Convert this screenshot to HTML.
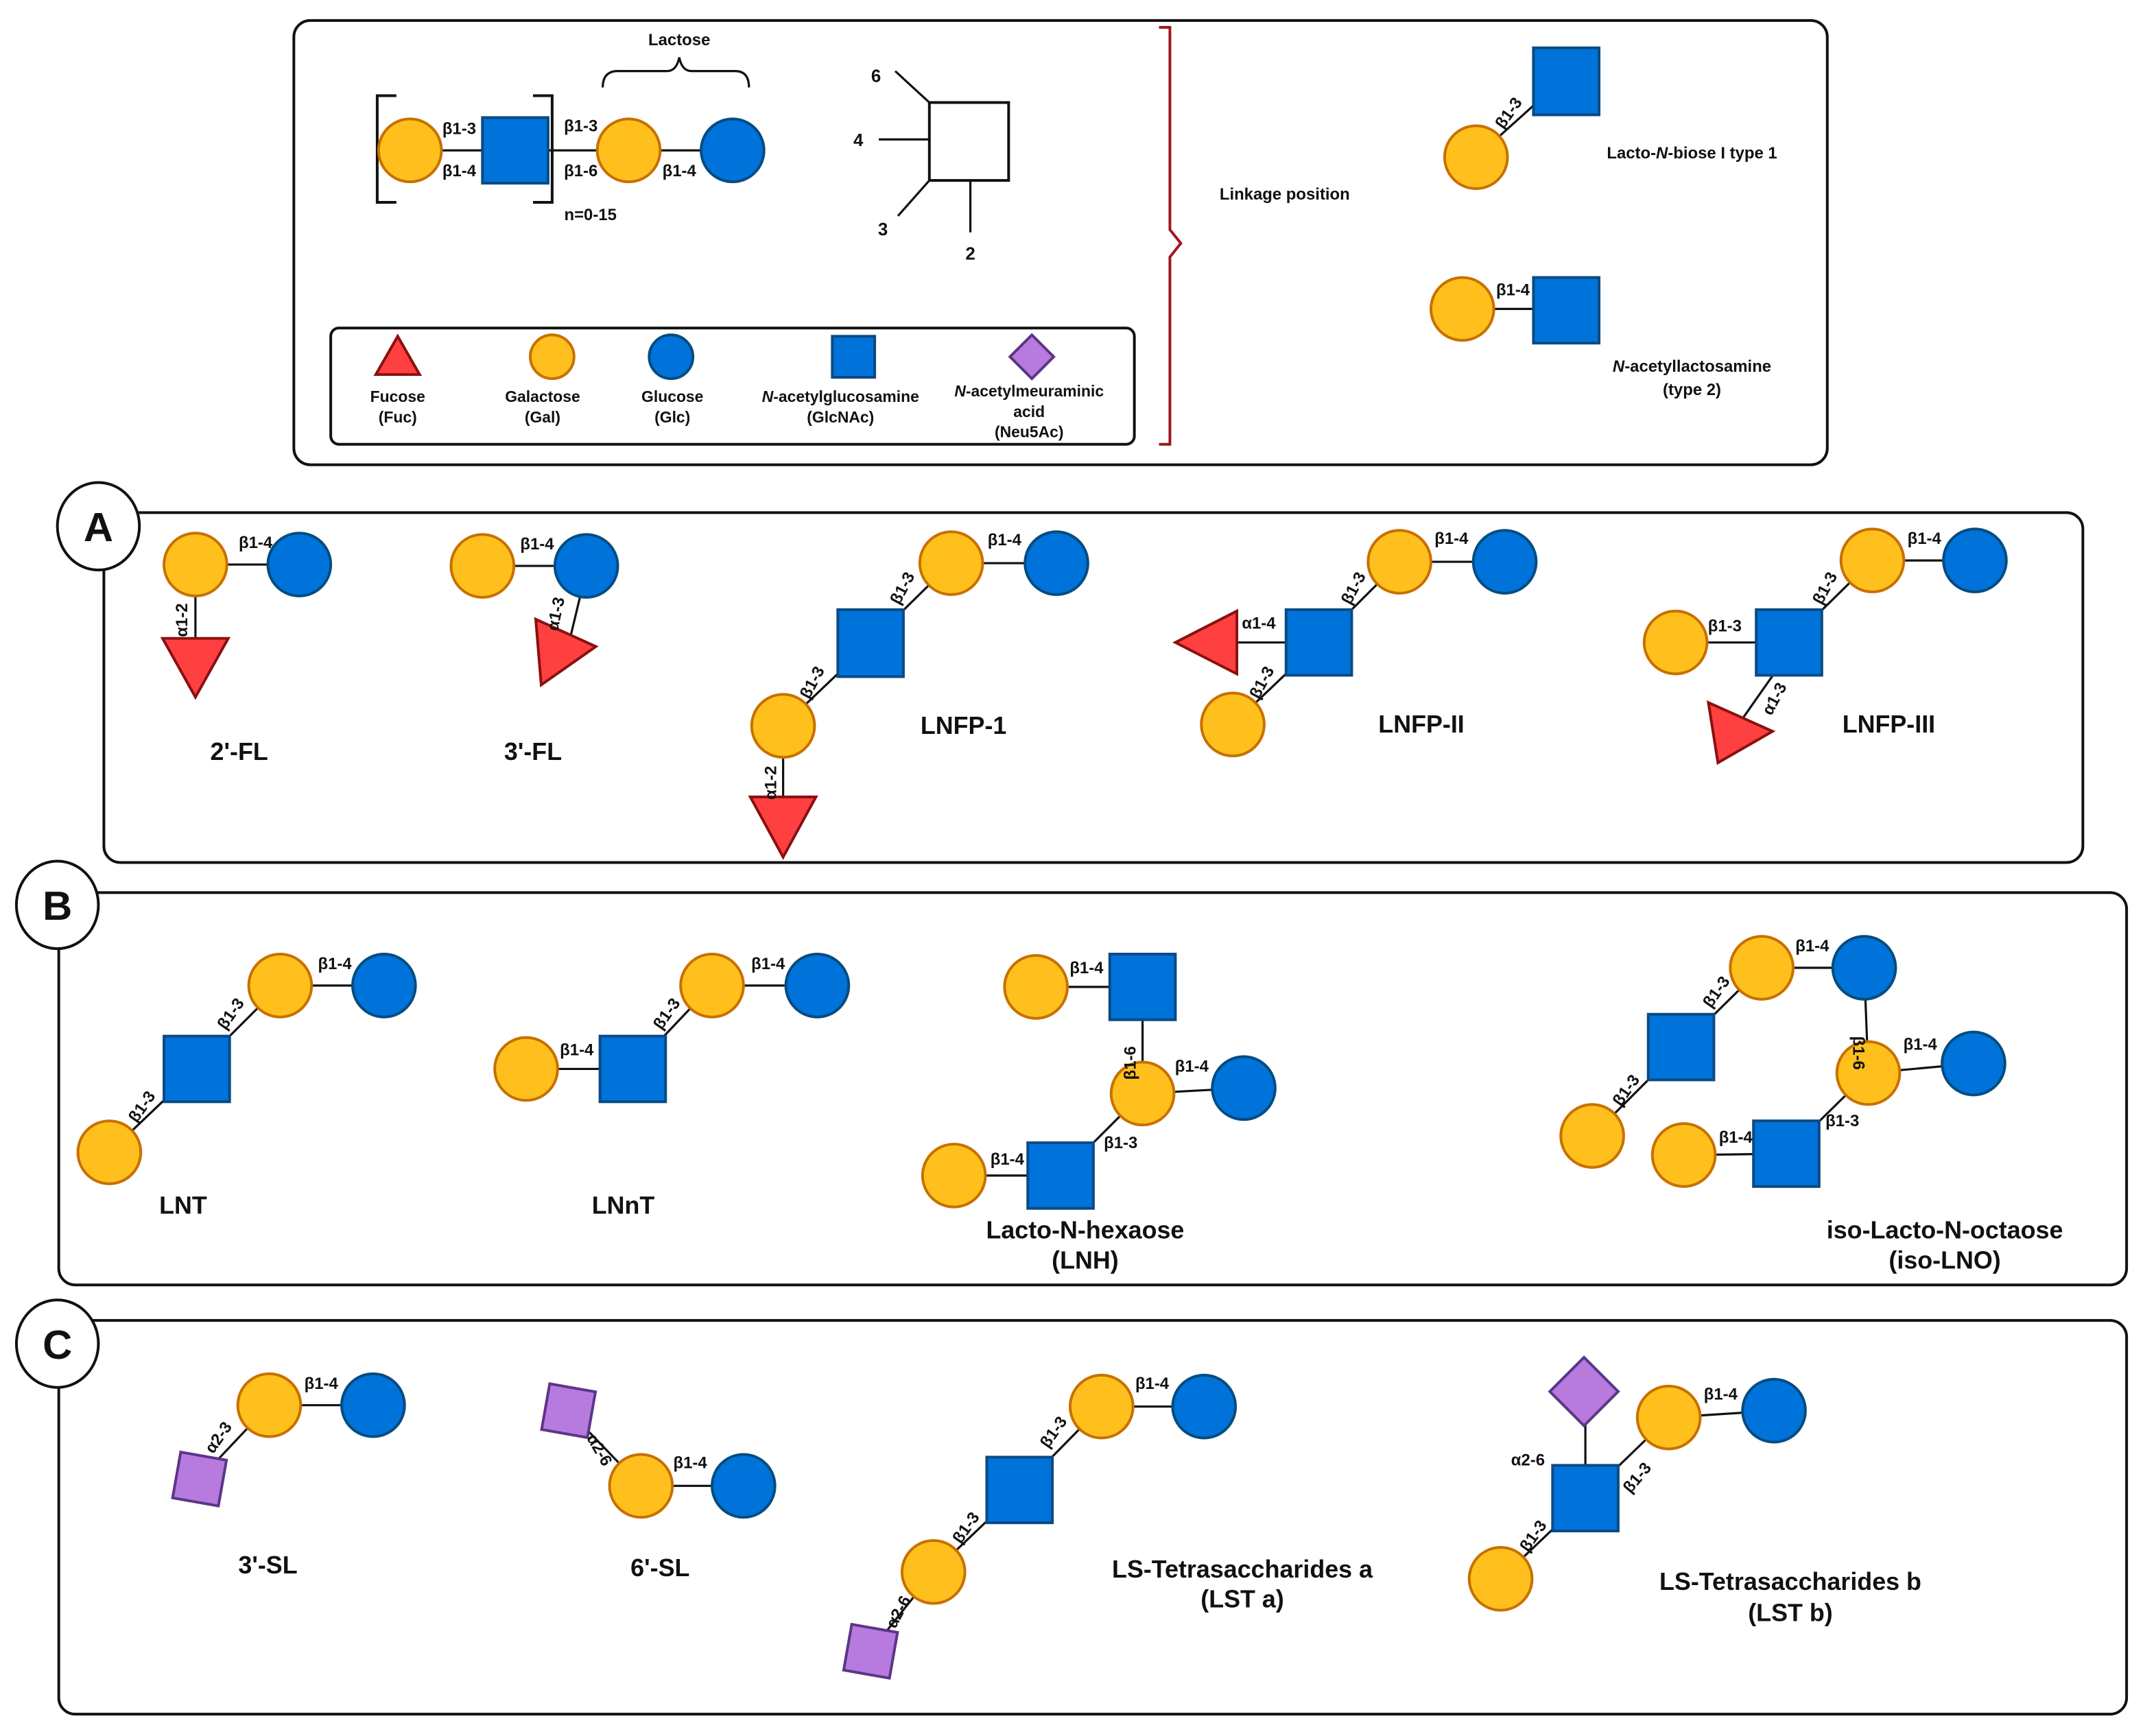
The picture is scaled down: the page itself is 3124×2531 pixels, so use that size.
<!DOCTYPE html>
<html><head><meta charset="utf-8"><style>
html,body{margin:0;padding:0;background:#fff}
svg{display:block}
text{font-family:"Liberation Sans",sans-serif;font-weight:bold;fill:#111}
.s{font-size:12px}.t{font-size:18px}.m{font-size:13px}.l{font-size:11.5px}
.ga{fill:#FFC01E;stroke:#C87000;stroke-width:2}
.gl{fill:#0073DA;stroke:#064C80;stroke-width:2}
.gn{fill:#0073DA;stroke:#0B4A85;stroke-width:2}
.fu{fill:#FF4040;stroke:#8B1010;stroke-width:2}
.ne{fill:#B77BE0;stroke:#5E3586;stroke-width:2}
.ln{stroke:#111;stroke-width:1.6;fill:none}
.bx{fill:none;stroke:#111;stroke-width:2}
</style></head><body>
<svg width="3124" height="2531" viewBox="0 0 1568 1270" preserveAspectRatio="none" xmlns="http://www.w3.org/2000/svg">
<!-- TOP BOX -->
<rect x="215" y="15" width="1122" height="325" rx="12" class="bx"/>
<path class="ln" d="M290 70 H276 V148 H290 M390 70 H404 V148 H390" style="stroke-width:2"/>
<line class="ln" x1="300" y1="110" x2="536" y2="110"/>
<circle cx="300" cy="110" r="23" class="ga"/>
<rect x="353" y="86" width="48" height="48" class="gn"/>
<circle cx="460" cy="110" r="23" class="ga"/>
<circle cx="536" cy="110" r="23" class="gl"/>
<text x="336" y="98" class="s" text-anchor="middle">β1-3</text>
<text x="336" y="129" class="s" text-anchor="middle">β1-4</text>
<text x="425" y="96" class="s" text-anchor="middle">β1-3</text>
<text x="425" y="129" class="s" text-anchor="middle">β1-6</text>
<text x="497" y="129" class="s" text-anchor="middle">β1-4</text>
<text x="432" y="161" class="s" text-anchor="middle">n=0-15</text>
<text x="497" y="33" class="s" text-anchor="middle">Lactose</text>
<path class="ln" d="M441 64 Q441 52 452 52 H488 Q495 52 497 42 Q499 52 506 52 H538 Q548 52 548 64"/>
<rect x="680" y="75" width="58" height="57" class="bx" style="fill:#fff"/>
<line class="ln" x1="655" y1="52" x2="680" y2="75"/>
<line class="ln" x1="643" y1="102" x2="680" y2="102"/>
<line class="ln" x1="657" y1="158" x2="680" y2="132"/>
<line class="ln" x1="710" y1="132" x2="710" y2="170"/>
<text x="641" y="60" class="m" text-anchor="middle">6</text>
<text x="628" y="107" class="m" text-anchor="middle">4</text>
<text x="646" y="172" class="m" text-anchor="middle">3</text>
<text x="710" y="190" class="m" text-anchor="middle">2</text>
<path d="M848 20 H856 V168 L864 178 L856 188 V325 H848" fill="none" stroke="#A0161E" stroke-width="2"/>
<text x="940" y="146" class="s" text-anchor="middle">Linkage position</text>
<line class="ln" x1="1080" y1="115" x2="1130" y2="70"/>
<circle cx="1080" cy="115" r="23" class="ga"/>
<rect x="1122" y="35" width="48" height="49" class="gn"/>
<text x="0" y="0" class="s" transform="translate(1100,95) rotate(-55)">β1-3</text>
<text x="1238" y="116" class="s" text-anchor="middle">Lacto-<tspan font-style="italic">N</tspan>-biose I type 1</text>
<line class="ln" x1="1070" y1="226" x2="1140" y2="226"/>
<circle cx="1070" cy="226" r="23" class="ga"/>
<rect x="1122" y="203" width="48" height="48" class="gn"/>
<text x="1107" y="216" class="s" text-anchor="middle">β1-4</text>
<text x="1238" y="272" class="s" text-anchor="middle"><tspan font-style="italic">N</tspan>-acetyllactosamine</text>
<text x="1238" y="289" class="s" text-anchor="middle">(type 2)</text>
<!-- legend -->
<rect x="242" y="240" width="588" height="85" rx="6" class="bx"/>
<polygon points="291,246 307,274 275,274" class="fu"/>
<ellipse cx="404" cy="261" rx="16" ry="16" class="ga"/>
<ellipse cx="491" cy="261" rx="16" ry="16" class="gl"/>
<rect x="609" y="246" width="31" height="30" class="gn"/>
<polygon points="755,245 771,261 755,277 739,261" class="ne"/>
<text x="291" y="294" class="l" text-anchor="middle">Fucose</text><text x="291" y="309" class="l" text-anchor="middle">(Fuc)</text>
<text x="397" y="294" class="l" text-anchor="middle">Galactose</text><text x="397" y="309" class="l" text-anchor="middle">(Gal)</text>
<text x="492" y="294" class="l" text-anchor="middle">Glucose</text><text x="492" y="309" class="l" text-anchor="middle">(Glc)</text>
<text x="615" y="294" class="l" text-anchor="middle"><tspan font-style="italic">N</tspan>-acetylglucosamine</text><text x="615" y="309" class="l" text-anchor="middle">(GlcNAc)</text>
<text x="753" y="290" class="l" text-anchor="middle"><tspan font-style="italic">N</tspan>-acetylmeuraminic</text><text x="753" y="305" class="l" text-anchor="middle">acid</text><text x="753" y="320" class="l" text-anchor="middle">(Neu5Ac)</text>

<!-- PANEL A -->
<rect x="76" y="375" width="1448" height="256" rx="12" class="bx"/>
<ellipse cx="72" cy="385" rx="30" ry="32" fill="#fff" stroke="#111" stroke-width="2"/>
<text x="72" y="396" text-anchor="middle" style="font-size:30px">A</text>
<!-- 2'-FL -->
<line class="ln" x1="143" y1="413" x2="219" y2="413"/><line class="ln" x1="143" y1="413" x2="143" y2="468"/>
<circle cx="143" cy="413" r="23" class="ga"/><circle cx="219" cy="413" r="23" class="gl"/>
<polygon points="119,467 167,467 143,510" class="fu"/>
<text x="187" y="401" class="s" text-anchor="middle">β1-4</text>
<text class="s" transform="translate(137,466) rotate(-90)">α1-2</text>
<text x="175" y="556" class="t" text-anchor="middle">2'-FL</text>
<!-- 3'-FL -->
<line class="ln" x1="353" y1="414" x2="429" y2="414"/><line class="ln" x1="426" y1="430" x2="414" y2="480"/>
<circle cx="353" cy="414" r="23" class="ga"/><circle cx="429" cy="414" r="23" class="gl"/>
<polygon points="392,453 436,473 396,501" class="fu"/>
<text x="393" y="402" class="s" text-anchor="middle">β1-4</text>
<text class="s" transform="translate(408,462) rotate(-78)">α1-3</text>
<text x="390" y="556" class="t" text-anchor="middle">3'-FL</text>
<!-- LNFP-1 -->
<line class="ln" x1="696" y1="412" x2="773" y2="412"/><line class="ln" x1="696" y1="412" x2="637" y2="470"/><line class="ln" x1="637" y1="470" x2="573" y2="531"/><line class="ln" x1="573" y1="531" x2="573" y2="584"/>
<circle cx="696" cy="412" r="23" class="ga"/><circle cx="773" cy="412" r="23" class="gl"/>
<rect x="613" y="446" width="48" height="49" class="gn"/>
<circle cx="573" cy="531" r="23" class="ga"/>
<polygon points="549,583 597,583 573,627" class="fu"/>
<text x="735" y="399" class="s" text-anchor="middle">β1-4</text>
<text class="s" transform="translate(658,443) rotate(-62)">β1-3</text>
<text class="s" transform="translate(592,512) rotate(-62)">β1-3</text>
<text class="s" transform="translate(568,585) rotate(-90)">α1-2</text>
<text x="705" y="537" class="t" text-anchor="middle">LNFP-1</text>
<!-- LNFP-II -->
<line class="ln" x1="1024" y1="411" x2="1101" y2="411"/><line class="ln" x1="1024" y1="411" x2="965" y2="470"/><line class="ln" x1="965" y1="470" x2="902" y2="530"/><line class="ln" x1="965" y1="470" x2="900" y2="470"/>
<circle cx="1024" cy="411" r="23" class="ga"/><circle cx="1101" cy="411" r="23" class="gl"/>
<rect x="941" y="446" width="48" height="48" class="gn"/>
<circle cx="902" cy="530" r="23" class="ga"/>
<polygon points="860,470 905,447 905,493" class="fu"/>
<text x="1062" y="398" class="s" text-anchor="middle">β1-4</text>
<text x="921" y="460" class="s" text-anchor="middle">α1-4</text>
<text class="s" transform="translate(988,443) rotate(-62)">β1-3</text>
<text class="s" transform="translate(921,512) rotate(-62)">β1-3</text>
<text x="1040" y="536" class="t" text-anchor="middle">LNFP-II</text>
<!-- LNFP-III -->
<line class="ln" x1="1370" y1="410" x2="1445" y2="410"/><line class="ln" x1="1370" y1="410" x2="1309" y2="470"/><line class="ln" x1="1309" y1="470" x2="1226" y2="470"/><line class="ln" x1="1300" y1="490" x2="1272" y2="530"/>
<circle cx="1370" cy="410" r="23" class="ga"/><circle cx="1445" cy="410" r="23" class="gl"/>
<rect x="1285" y="446" width="48" height="48" class="gn"/>
<circle cx="1226" cy="470" r="23" class="ga"/>
<polygon points="1250,514 1297,535 1257,558" class="fu"/>
<text x="1408" y="398" class="s" text-anchor="middle">β1-4</text>
<text x="1262" y="462" class="s" text-anchor="middle">β1-3</text>
<text class="s" transform="translate(1333,443) rotate(-62)">β1-3</text>
<text class="s" transform="translate(1296,524) rotate(-62)">α1-3</text>
<text x="1382" y="536" class="t" text-anchor="middle">LNFP-III</text>

<!-- PANEL B -->
<rect x="43" y="653" width="1513" height="287" rx="12" class="bx"/>
<ellipse cx="42" cy="662" rx="30" ry="32" fill="#fff" stroke="#111" stroke-width="2"/>
<text x="42" y="673" text-anchor="middle" style="font-size:30px">B</text>
<!-- LNT -->
<line class="ln" x1="205" y1="721" x2="281" y2="721"/><line class="ln" x1="205" y1="721" x2="144" y2="782"/><line class="ln" x1="144" y1="782" x2="80" y2="843"/>
<circle cx="205" cy="721" r="23" class="ga"/><circle cx="281" cy="721" r="23" class="gl"/>
<rect x="120" y="758" width="48" height="48" class="gn"/>
<circle cx="80" cy="843" r="23" class="ga"/>
<text x="245" y="709" class="s" text-anchor="middle">β1-4</text>
<text class="s" transform="translate(165,754) rotate(-55)">β1-3</text>
<text class="s" transform="translate(100,822) rotate(-55)">β1-3</text>
<text x="134" y="888" class="t" text-anchor="middle">LNT</text>
<!-- LNnT -->
<line class="ln" x1="521" y1="721" x2="598" y2="721"/><line class="ln" x1="521" y1="721" x2="463" y2="782"/><line class="ln" x1="463" y1="782" x2="385" y2="782"/>
<circle cx="521" cy="721" r="23" class="ga"/><circle cx="598" cy="721" r="23" class="gl"/>
<rect x="439" y="758" width="48" height="48" class="gn"/>
<circle cx="385" cy="782" r="23" class="ga"/>
<text x="562" y="709" class="s" text-anchor="middle">β1-4</text>
<text x="422" y="772" class="s" text-anchor="middle">β1-4</text>
<text class="s" transform="translate(484,754) rotate(-55)">β1-3</text>
<text x="456" y="888" class="t" text-anchor="middle">LNnT</text>
<!-- LNH -->
<line class="ln" x1="758" y1="722" x2="836" y2="722"/><line class="ln" x1="836" y1="722" x2="836" y2="800"/><line class="ln" x1="836" y1="800" x2="910" y2="796"/><line class="ln" x1="836" y1="800" x2="776" y2="860"/><line class="ln" x1="776" y1="860" x2="698" y2="860"/>
<circle cx="758" cy="722" r="23" class="ga"/>
<rect x="812" y="698" width="48" height="48" class="gn"/>
<circle cx="836" cy="800" r="23" class="ga"/><circle cx="910" cy="796" r="23" class="gl"/>
<rect x="752" y="836" width="48" height="48" class="gn"/>
<circle cx="698" cy="860" r="23" class="ga"/>
<text x="795" y="712" class="s" text-anchor="middle">β1-4</text>
<text class="s" transform="translate(831,790) rotate(-90)">β1-6</text>
<text x="872" y="784" class="s" text-anchor="middle">β1-4</text>
<text x="820" y="840" class="s" text-anchor="middle">β1-3</text>
<text x="737" y="852" class="s" text-anchor="middle">β1-4</text>
<text x="794" y="906" class="t" text-anchor="middle">Lacto-N-hexaose</text>
<text x="794" y="928" class="t" text-anchor="middle">(LNH)</text>
<!-- iso-LNO -->
<line class="ln" x1="1289" y1="708" x2="1364" y2="708"/><line class="ln" x1="1289" y1="708" x2="1230" y2="766"/><line class="ln" x1="1230" y1="766" x2="1165" y2="831"/><line class="ln" x1="1364" y1="708" x2="1367" y2="785"/><line class="ln" x1="1367" y1="785" x2="1444" y2="778"/><line class="ln" x1="1367" y1="785" x2="1307" y2="844"/><line class="ln" x1="1307" y1="844" x2="1232" y2="845"/>
<circle cx="1289" cy="708" r="23" class="ga"/><circle cx="1364" cy="708" r="23" class="gl"/>
<rect x="1206" y="742" width="48" height="48" class="gn"/>
<circle cx="1165" cy="831" r="23" class="ga"/>
<circle cx="1367" cy="785" r="23" class="ga"/><circle cx="1444" cy="778" r="23" class="gl"/>
<rect x="1283" y="820" width="48" height="48" class="gn"/>
<circle cx="1232" cy="845" r="23" class="ga"/>
<text x="1326" y="696" class="s" text-anchor="middle">β1-4</text>
<text class="s" transform="translate(1252,738) rotate(-55)">β1-3</text>
<text class="s" transform="translate(1186,810) rotate(-55)">β1-3</text>
<text class="s" transform="translate(1356,758) rotate(90)">β1-6</text>
<text x="1405" y="768" class="s" text-anchor="middle">β1-4</text>
<text x="1348" y="824" class="s" text-anchor="middle">β1-3</text>
<text x="1270" y="836" class="s" text-anchor="middle">β1-4</text>
<text x="1423" y="906" class="t" text-anchor="middle">iso-Lacto-N-octaose</text>
<text x="1423" y="928" class="t" text-anchor="middle">(iso-LNO)</text>

<!-- PANEL C -->
<rect x="43" y="966" width="1513" height="288" rx="12" class="bx"/>
<ellipse cx="42" cy="983" rx="30" ry="32" fill="#fff" stroke="#111" stroke-width="2"/>
<text x="42" y="994" text-anchor="middle" style="font-size:30px">C</text>
<!-- 3'-SL -->
<line class="ln" x1="197" y1="1028" x2="273" y2="1028"/><line class="ln" x1="197" y1="1028" x2="146" y2="1082"/>
<circle cx="197" cy="1028" r="23" class="ga"/><circle cx="273" cy="1028" r="23" class="gl"/>
<rect x="129" y="1065" width="34" height="34" class="ne" transform="rotate(10 146 1082)"/>
<text x="235" y="1016" class="s" text-anchor="middle">β1-4</text>
<text class="s" transform="translate(156,1064) rotate(-55)">α2-3</text>
<text x="196" y="1151" class="t" text-anchor="middle">3'-SL</text>
<!-- 6'-SL -->
<line class="ln" x1="416" y1="1032" x2="469" y2="1087"/><line class="ln" x1="469" y1="1087" x2="544" y2="1087"/>
<rect x="399" y="1015" width="34" height="34" class="ne" transform="rotate(10 416 1032)"/>
<circle cx="469" cy="1087" r="23" class="ga"/><circle cx="544" cy="1087" r="23" class="gl"/>
<text x="505" y="1074" class="s" text-anchor="middle">β1-4</text>
<text class="s" transform="translate(429,1052) rotate(60)">α2-6</text>
<text x="483" y="1153" class="t" text-anchor="middle">6'-SL</text>
<!-- LST a -->
<line class="ln" x1="806" y1="1029" x2="881" y2="1029"/><line class="ln" x1="806" y1="1029" x2="746" y2="1090"/><line class="ln" x1="746" y1="1090" x2="683" y2="1150"/><line class="ln" x1="683" y1="1150" x2="637" y2="1208"/>
<circle cx="806" cy="1029" r="23" class="ga"/><circle cx="881" cy="1029" r="23" class="gl"/>
<rect x="722" y="1066" width="48" height="48" class="gn"/>
<circle cx="683" cy="1150" r="23" class="ga"/>
<rect x="620" y="1191" width="34" height="34" class="ne" transform="rotate(10 637 1208)"/>
<text x="843" y="1016" class="s" text-anchor="middle">β1-4</text>
<text class="s" transform="translate(767,1060) rotate(-55)">β1-3</text>
<text class="s" transform="translate(703,1130) rotate(-55)">β1-3</text>
<text class="s" transform="translate(655,1192) rotate(-62)">α2-6</text>
<text x="909" y="1154" class="t" text-anchor="middle">LS-Tetrasaccharides a</text>
<text x="909" y="1176" class="t" text-anchor="middle">(LST a)</text>
<!-- LST b -->
<line class="ln" x1="1160" y1="1018" x2="1160" y2="1096"/><line class="ln" x1="1160" y1="1096" x2="1221" y2="1037"/><line class="ln" x1="1221" y1="1037" x2="1298" y2="1032"/><line class="ln" x1="1160" y1="1096" x2="1098" y2="1155"/>
<polygon points="1159,993 1184,1018 1159,1043 1134,1018" class="ne"/>
<rect x="1136" y="1072" width="48" height="48" class="gn"/>
<circle cx="1221" cy="1037" r="23" class="ga"/><circle cx="1298" cy="1032" r="23" class="gl"/>
<circle cx="1098" cy="1155" r="23" class="ga"/>
<text x="1259" y="1024" class="s" text-anchor="middle">β1-4</text>
<text x="1118" y="1072" class="s" text-anchor="middle">α2-6</text>
<text class="s" transform="translate(1193,1093) rotate(-50)">β1-3</text>
<text class="s" transform="translate(1118,1136) rotate(-55)">β1-3</text>
<text x="1310" y="1163" class="t" text-anchor="middle">LS-Tetrasaccharides b</text>
<text x="1310" y="1186" class="t" text-anchor="middle">(LST b)</text>
</svg>
</body></html>
